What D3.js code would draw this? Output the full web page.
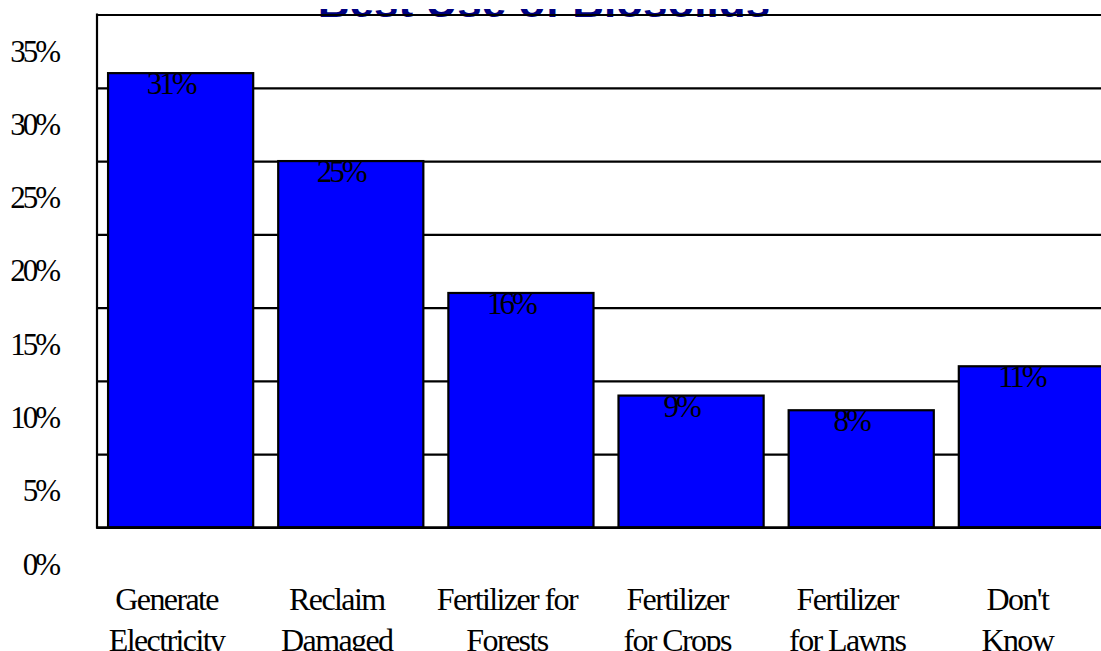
<!DOCTYPE html>
<html>
<head>
<meta charset="utf-8">
<script src="https://cdn.jsdelivr.net/npm/d3@7"></script>
<style>
  html, body { margin: 0; padding: 0; background: #fff; }
  svg { display: block; }
</style>
</head>
<body>
<svg id="chart" width="1101" height="651"></svg>
<script>
// Survey responses: best use of biosolids
const categories = [
  ["Generate", "Electricity"],
  ["Reclaim", "Damaged"],
  ["Fertilizer for", "Forests"],
  ["Fertilizer", "for Crops"],
  ["Fertilizer", "for Lawns"],
  ["Don't", "Know"]
];
const values = [31, 25, 16, 9, 8, 11];
const yTicks = [0, 5, 10, 15, 20, 25, 30, 35];
const title = "Best Use of Biosolids";

const svg = d3.select("#chart");
const serif = "'Liberation Serif', 'Times New Roman', serif";

const plotLeft = 97, plotRight = 1115, plotTop = 14.5, plotBottom = 527.5;

const x = d3.scaleBand()
  .domain(d3.range(categories.length))
  .range([plotLeft, plotRight])
  .paddingInner(0.147)
  .paddingOuter(0.065);

const y = d3.scaleLinear().domain([0, 35]).range([plotBottom, plotTop]);

// Title, clipped so only its lower edge shows above the frame
svg.append("defs").append("clipPath")
  .attr("id", "title-clip")
  .append("rect")
  .attr("x", 0).attr("y", 9)
  .attr("width", 1101).attr("height", 30);

svg.append("text")
  .attr("clip-path", "url(#title-clip)")
  .attr("x", 544)
  .attr("y", 17)
  .attr("text-anchor", "middle")
  .attr("font-family", "'Liberation Sans', Arial, sans-serif")
  .attr("font-weight", "bold")
  .attr("font-size", 44)
  .attr("fill", "#000080")
  .text(title);

// Horizontal gridlines
const grid = d3.axisLeft(y)
  .tickValues(yTicks)
  .tickSize(-(1101 - plotLeft))
  .tickFormat("");
const gridG = svg.append("g")
  .attr("transform", `translate(${plotLeft},0)`)
  .call(grid);
gridG.select(".domain").remove();
gridG.selectAll(".tick line")
  .attr("stroke", "#000")
  .attr("stroke-width", 2.2);

// Left axis line
svg.append("line")
  .attr("x1", plotLeft).attr("x2", plotLeft)
  .attr("y1", y(35) - 1).attr("y2", y(0) + 1)
  .attr("stroke", "#000").attr("stroke-width", 2.2);

// Y tick labels
svg.append("g").selectAll("text")
  .data(yTicks)
  .join("text")
  .attr("x", 58)
  .attr("y", d => y(d) + 47)
  .attr("text-anchor", "end")
  .attr("font-family", serif)
  .attr("font-size", 31)
  .attr("letter-spacing", "-3px")
  .attr("fill", "#000")
  .text(d => d + "%");

// Bars
svg.append("g").selectAll("rect")
  .data(values)
  .join("rect")
  .attr("x", (d, i) => x(i))
  .attr("y", d => y(d))
  .attr("width", x.bandwidth())
  .attr("height", d => y(0) - y(d))
  .attr("fill", "#0000ff")
  .attr("stroke", "#000")
  .attr("stroke-width", 2.2);

// Bottom axis line
svg.append("line")
  .attr("x1", plotLeft - 1).attr("x2", 1101)
  .attr("y1", y(0)).attr("y2", y(0))
  .attr("stroke", "#000").attr("stroke-width", 2.4);

// Value labels
svg.append("g").selectAll("text")
  .data(values)
  .join("text")
  .attr("x", (d, i) => x(i) + x.bandwidth() / 2 - 10)
  .attr("y", d => y(d) + 21)
  .attr("text-anchor", "middle")
  .attr("font-family", serif)
  .attr("font-size", 31)
  .attr("letter-spacing", "-3px")
  .attr("fill", "#000")
  .text(d => d + "%");

// Category labels (two lines each)
const catG = svg.append("g").selectAll("text")
  .data(categories)
  .join("text")
  .attr("text-anchor", "middle")
  .attr("font-family", serif)
  .attr("font-size", 32)
  .attr("letter-spacing", "-1.6px")
  .attr("fill", "#000");

catG.selectAll("tspan")
  .data((d, i) => d.map((line, j) => ({ line, j, i })))
  .join("tspan")
  .attr("x", d => x(d.i) + x.bandwidth() / 2 - 14)
  .attr("y", d => y(0) + 82.5 + d.j * 41)
  .text(d => d.line);
</script>
</body>
</html>
